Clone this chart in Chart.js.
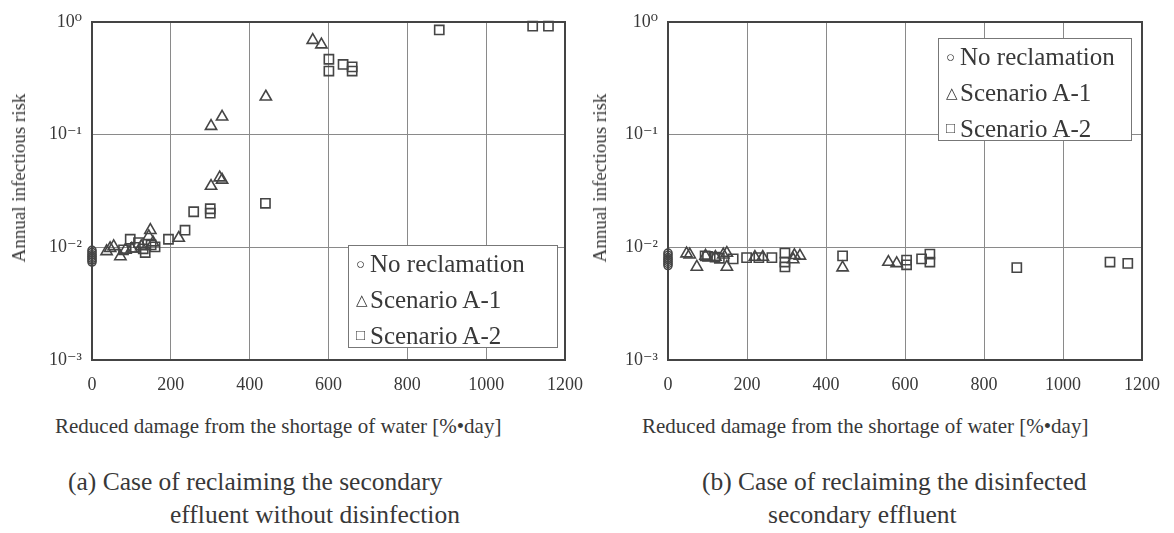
<!DOCTYPE html>
<html>
<head>
<meta charset="utf-8">
<script src="https://cdn.jsdelivr.net/npm/chart.js@4/dist/chart.umd.min.js"></script>
<style>
  body { margin: 0; background: #fff; overflow: hidden; }
  #wrap { position: relative; width: 1174px; height: 533px; font-family: "Liberation Serif", "DejaVu Serif", serif; color: #383838; }
  canvas { position: absolute; top: 0; }
  .txt { position: absolute; white-space: nowrap; line-height: 29px; }
  .xtitle { font-size: 21px; }
  .ytitle { font-size: 19px; transform: translate(-50%, -50%) rotate(-90deg); line-height: 22px; }
  .cap { font-size: 25.5px; }
  .legend { position: absolute; box-sizing: border-box; background: #fff; border: 1px solid #777; font-size: 25px; line-height: 33px; padding: 1px 6px 0 7px; }
  .legend span { display: inline-block; width: 14px; font-size: 15px; vertical-align: middle; position: relative; top: -2px; }
</style>
</head>
<body>
<div id="wrap">
  <canvas id="chartA" width="597" height="400" style="left:0;width:597px;height:400px"></canvas>
  <canvas id="chartB" width="594" height="400" style="left:580px;width:594px;height:400px"></canvas>

  <div class="legend" style="left:348px;top:245px;width:210px;height:103px">
    <div><span>○</span>No reclamation</div>
    <div><span>△</span>Scenario A-1</div>
    <div><span>□</span>Scenario A-2</div>
  </div>
  <div class="legend" style="left:938px;top:38px;width:194px;height:103px">
    <div><span>○</span>No reclamation</div>
    <div><span>△</span>Scenario A-1</div>
    <div><span>□</span>Scenario A-2</div>
  </div>

  <div class="txt ytitle" style="left:19px;top:178px">Annual infectious risk</div>
  <div class="txt ytitle" style="left:600px;top:178px">Annual infectious risk</div>
  <div class="txt xtitle" style="left:55px;top:412px">Reduced damage from the shortage of water [%•day]</div>
  <div class="txt xtitle" style="left:642px;top:412px">Reduced damage from the shortage of water [%•day]</div>
  <div class="txt cap" style="left:68px;top:467px">(a) Case of reclaiming the secondary</div>
  <div class="txt cap" style="left:170px;top:500px">effluent without disinfection</div>
  <div class="txt cap" style="left:702px;top:467px">(b) Case of reclaiming the disinfected</div>
  <div class="txt cap" style="left:768px;top:500px">secondary effluent</div>
</div>

<script>
const xTicks = [0, 200, 400, 600, 800, 1000, 1200];
const yTicks = [0.001, 0.01, 0.1, 1];
const yTickLabels = ["10⁻³", "10⁻²", "10⁻¹", "10⁰"];

// (a) secondary effluent without disinfection
const noRecA_x = [0, 0, 0, 0, 0, 0, 0];
const noRecA_y = [0.0074, 0.0077, 0.0080, 0.0083, 0.0086, 0.0090, 0.0094];
const a1A_x = [37, 46, 55, 72, 85, 101, 125, 144, 148, 155, 220, 302, 324, 330, 302, 330, 441, 560, 582];
const a1A_y = [0.0092, 0.0098, 0.0102, 0.0083, 0.0095, 0.0097, 0.0102, 0.0125, 0.0142, 0.0110, 0.0121, 0.035, 0.0416, 0.0397, 0.119, 0.144, 0.217, 0.69, 0.63];
const a2A_x = [80, 97, 110, 118, 130, 135, 150, 160, 194, 236, 258, 300, 300, 440, 601, 601, 637, 660, 660, 881, 1118, 1158];
const a2A_y = [0.0095, 0.0118, 0.0100, 0.0110, 0.0097, 0.0090, 0.0105, 0.0101, 0.0118, 0.0142, 0.0207, 0.0220, 0.0201, 0.0246, 0.467, 0.367, 0.42, 0.40, 0.367, 0.85, 0.92, 0.92];

// (b) disinfected secondary effluent
const noRecB_x = [0, 0, 0, 0, 0, 0, 0];
const noRecB_y = [0.0069, 0.0072, 0.0075, 0.0078, 0.0081, 0.0085, 0.0089];
const a1B_x = [47, 55, 73, 95, 120, 140, 149, 149, 220, 240, 317, 320, 334, 442, 558, 579];
const a1B_y = [0.0088, 0.0086, 0.0067, 0.0084, 0.0082, 0.0086, 0.0089, 0.0067, 0.0082, 0.0082, 0.0078, 0.0085, 0.0084, 0.0066, 0.0074, 0.0072];
const a2B_x = [94, 100, 119, 130, 165, 199, 230, 263, 296, 296, 296, 442, 604, 604, 642, 663, 663, 883, 1119, 1164];
const a2B_y = [0.0084, 0.0083, 0.0082, 0.0080, 0.0079, 0.0081, 0.0081, 0.0081, 0.0089, 0.0074, 0.0067, 0.0084, 0.0077, 0.0070, 0.0079, 0.0087, 0.0074, 0.0066, 0.0074, 0.0072];

const FONT = '"Liberation Serif", "DejaVu Serif", serif';
const INK = "#383838";
const MARK = "#454545";

function toPoints(xs, ys) {
  return xs.map((x, i) => ({ x: x, y: ys[i] }));
}

function series(label, xs, ys, style, radius) {
  return {
    label: label,
    data: toPoints(xs, ys),
    pointStyle: style,
    pointRadius: radius,
    pointHoverRadius: radius,
    borderColor: MARK,
    backgroundColor: "rgba(0,0,0,0)",
    borderWidth: 1.6,
    showLine: false,
    clip: false,
  };
}

function createChart(canvasId, datasets, yWidth, padRight) {
  new Chart(document.getElementById(canvasId), {
    type: "scatter",
    data: { datasets: datasets },
    options: {
      responsive: false,
      animation: false,
      events: [],
      layout: { padding: { left: 0, right: padRight, top: 22, bottom: 0 } },
      plugins: { legend: { display: false }, tooltip: { enabled: false } },
      scales: {
        x: {
          type: "linear",
          min: 0,
          max: 1200,
          afterBuildTicks: (scale) => {
            scale.ticks = xTicks.map((v) => ({ value: v }));
          },
          afterFit: (scale) => {
            scale.height = 40;
          },
          grid: { color: "#8a8a8a", lineWidth: 1, drawTicks: false },
          border: { color: "#444", width: 2 },
          ticks: {
            color: INK,
            padding: 14,
            maxRotation: 0,
            font: { size: 18, family: FONT },
            callback: (value) => String(value),
          },
        },
        y: {
          type: "logarithmic",
          min: 0.001,
          max: 1,
          afterBuildTicks: (scale) => {
            scale.ticks = yTicks.map((v) => ({ value: v }));
          },
          afterFit: (scale) => {
            scale.width = yWidth;
          },
          grid: { color: "#8a8a8a", lineWidth: 1, drawTicks: false },
          border: { color: "#444", width: 2 },
          ticks: {
            color: INK,
            padding: 10,
            font: { size: 18, family: FONT },
            callback: (value) => yTickLabels[yTicks.indexOf(value)] ?? "",
          },
        },
      },
    },
    plugins: [
      {
        id: "frame",
        afterDraw(chart) {
          const { ctx, chartArea: a } = chart;
          ctx.save();
          ctx.strokeStyle = "#444";
          ctx.lineWidth = 2;
          ctx.strokeRect(a.left, a.top, a.right - a.left, a.bottom - a.top);
          ctx.restore();
        },
      },
    ],
  });
}

createChart("chartA", [
  series("No reclamation", noRecA_x, noRecA_y, "circle", 4),
  series("Scenario A-1", a1A_x, a1A_y, "triangle", 6.5),
  series("Scenario A-2", a2A_x, a2A_y, "rect", 6.5),
], 92, 19);

createChart("chartB", [
  series("No reclamation", noRecB_x, noRecB_y, "circle", 4),
  series("Scenario A-1", a1B_x, a1B_y, "triangle", 6.5),
  series("Scenario A-2", a2B_x, a2B_y, "rect", 6.5),
], 88, 30);
</script>
</body>
</html>
